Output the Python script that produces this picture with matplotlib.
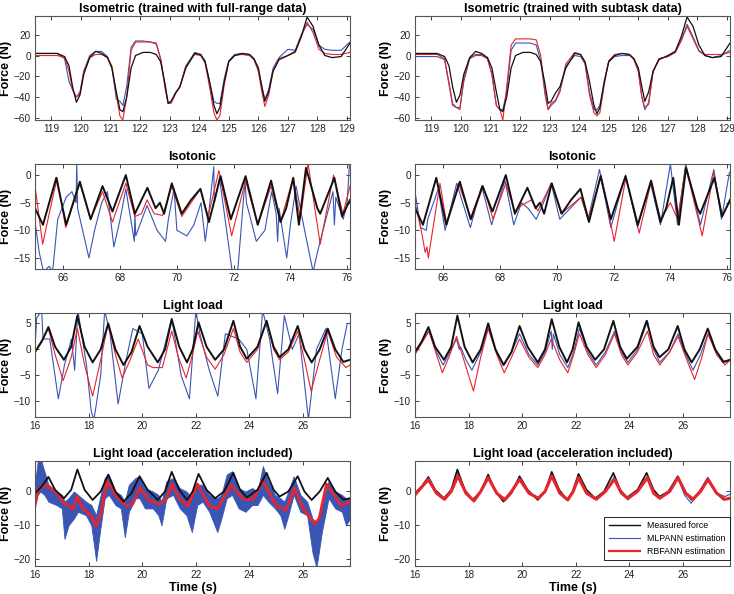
import matplotlib
matplotlib.use('Agg')
import matplotlib.pyplot as plt
from matplotlib.lines import Line2D

plt.rcParams['font.family'] = ['Liberation Sans', 'DejaVu Sans']

BLACK = '#111111'
BLUE = '#3a55b4'
RED = '#e8242c'

# ---------------- Row 1: isometric ----------------
t_iso = [118.45, 119.2, 119.45, 119.6, 119.72, 119.85, 119.97, 120.1, 120.3, 120.5,
         120.7, 120.9, 121.05, 121.2, 121.32, 121.42, 121.55, 121.7, 121.85, 122.1,
         122.35, 122.55, 122.7, 122.85, 122.95, 123.05, 123.2, 123.35, 123.55, 123.85,
         124.05, 124.2, 124.35, 124.5, 124.6, 124.7, 124.85, 125.0, 125.2, 125.45,
         125.7, 125.85, 126.0, 126.12, 126.22, 126.35, 126.5, 126.7, 127.0, 127.25,
         127.45, 127.65, 127.85, 128.05, 128.25, 128.5, 128.8, 129.1]
iso_measured = [2, 2, -1, -10, -30, -45, -38, -18, -2, 4,
                2, -2, -12, -35, -52, -54, -40, -12, 0, 3,
                3, 1, -6, -28, -46, -44, -36, -30, -12, 2,
                1, -6, -25, -48, -56, -50, -25, -6, 0, 2,
                1, -3, -12, -30, -44, -35, -15, -4, 0, 4,
                18, 37, 28, 10, 0, -2, -1, 12]
iso_mlp_full = [2, 2, -3, -25, -33, -40, -35, -15, 0, 4,
                4, -1, -12, -42, -44, -48, -30, 8, 14, 14,
                13, 12, -3, -30, -45, -45, -36, -30, -10, 3,
                1, -5, -25, -44, -46, -46, -22, -5, 1, 2,
                1, -3, -12, -30, -42, -33, -12, -2, 6, 5,
                20, 30, 25, 10, 6, 5, 5, 13]
iso_rbf_full = [0, 0, -2, -15, -33, -40, -37, -15, -2, 1,
                1, -2, -10, -38, -58, -62, -40, 5, 13, 13,
                13, 11, -4, -32, -46, -46, -37, -30, -10, 1,
                0, -7, -30, -55, -62, -58, -28, -6, 0, 1,
                0, -4, -15, -35, -49, -38, -15, -3, 0, 3,
                18, 32, 22, 6, 2, 1, 1, 3]
iso_mlp_sub = [-1, -1, -4, -28, -48, -50, -50, -25, -3, 0,
               0, -3, -18, -48, -52, -52, -35, 5, 12, 12,
               12, 10, -5, -38, -52, -48, -44, -35, -10, 0,
               -1, -8, -35, -52, -52, -48, -25, -6, -1, 0,
               0, -3, -15, -40, -52, -45, -15, -3, -1, 3,
               15, 30, 18, 5, 0, -2, 0, 5]
iso_rbf_sub = [1, 1, -3, -26, -46, -50, -52, -22, -2, 1,
               1, -3, -18, -48, -52, -62, -30, 10, 16, 16,
               16, 15, 0, -36, -52, -46, -43, -33, -8, 3,
               1, -8, -38, -55, -58, -55, -28, -5, 1, 2,
               1, -4, -15, -40, -50, -47, -16, -3, -1, 3,
               14, 28, 16, 4, 1, 1, 1, 3]

# ---------------- Row 2: isotonic ----------------
t_ton_meas = [65.0, 65.28, 65.75, 66.1, 66.58, 66.96, 67.38, 67.73, 68.2, 68.52,
              68.96, 69.25, 69.4, 69.55, 69.82, 70.17, 70.5, 70.83, 71.13, 71.54,
              71.9, 72.42, 72.85, 73.32, 73.65, 73.85, 74.1, 74.3, 74.55, 74.95,
              75.05, 75.55, 75.82, 76.1]
ton_measured = [-6, -9, -0.5, -9, -1.2, -8, -2, -6.6, 0, -7,
                -2.3, -6, -5, -7, -1.5, -7, -4.5, -2.5, -8.5, -0.2,
                -8, -0.2, -9, -1, -8.5, -6, -0.5, -9, 1.3, -6,
                -7, -0.5, -7.5, -4.5]
t_ton_mlp_full = [65.0, 65.15, 65.3, 65.5, 65.62, 65.8, 66.1, 66.3, 66.45, 66.47,
                  66.5, 66.9, 67.1, 67.35, 67.55, 67.78, 68.0, 68.2, 68.5, 68.52,
                  68.55, 68.95, 69.3, 69.6, 69.7, 69.9, 70.0, 70.35, 70.6, 70.85,
                  71.0, 71.1, 71.3, 71.32, 71.5, 71.95, 72.15, 72.4, 72.45, 72.8,
                  73.1, 73.34, 73.5, 73.55, 73.6, 73.87, 74.0, 74.2, 74.5, 74.8,
                  74.95, 75.5, 75.55, 75.6, 75.86, 76.0, 76.08]
ton_mlp_full = [-8.5, -14, -17.5, -16.5, -17.5, -8, -4, -3, -5, 2.5,
                -6, -15, -10, -5, -3, -13, -8, -2.5, -12, -7,
                -11, -5.5, -10, -12, -8, -2.5, -10, -11, -9, -5,
                -12, -8, 1.5, -5, -0.5, -17.5, -17, -1, -5, -12,
                -10, -3, -7, -12, -6, -15, -9, -2, -10, -17.5,
                -14, -3, -9, -4, -8, -5, 2]
t_ton_rbf_full = [65.0, 65.27, 65.5, 65.78, 66.08, 66.58, 66.96, 67.38, 67.73, 68.2,
                  68.52, 68.75, 68.95, 69.2, 69.5, 69.82, 70.17, 70.83, 71.1, 71.48,
                  71.93, 72.42, 72.85, 73.32, 73.65, 74.1, 74.35, 74.62, 75.05, 75.52,
                  75.85, 76.1]
ton_rbf_full = [-2, -12.5, -7, -0.5, -9.5, -1.5, -8, -3, -8.5, -1.5,
                -7.5, -7, -4.5, -7, -7.3, -2, -7.5, -2.5, -7.5, 0.8,
                -11, -1, -9, -2, -8.5, -0.5, -8, 2.2, -12.5, 0,
                -7, -2]
t_ton_mlp_sub = [65.0, 65.2, 65.4, 65.45, 65.82, 66.06, 66.47, 66.95, 67.35, 67.7,
                 68.17, 68.48, 68.75, 68.98, 69.27, 69.45, 69.8, 70.1, 70.85, 71.1,
                 71.5, 71.9, 72.42, 72.84, 73.3, 73.65, 74.0, 74.25, 74.54, 75.06,
                 75.53, 75.8, 76.08]
ton_mlp_sub = [-3, -9.5, -10, -8, -2.5, -10, -1.5, -9.5, -2, -9,
               -1, -9, -5, -6, -8, -6, -1.5, -8, -4, -8,
               1, -9.5, 0, -9.5, -1.5, -9, 2, -9, 2, -9,
               1, -8, 0.5]
t_ton_rbf_sub = [65.0, 65.22, 65.36, 65.42, 65.47, 65.88, 66.12, 66.53, 66.99, 67.4,
                 67.75, 68.2, 68.51, 68.75, 69.1, 69.33, 69.8, 70.15, 70.85, 71.1,
                 71.56, 72.02, 72.43, 72.9, 73.31, 73.66, 74.0, 74.25, 74.54, 75.12,
                 75.53, 75.82, 76.08]
ton_rbf_sub = [-5, -10, -14, -13, -15, -1.5, -9, -1.5, -8, -2,
               -8, -1.5, -6.5, -5.5, -4.5, -6.5, -1.5, -7, -4, -8,
               0, -12, -0.5, -10.5, -1.5, -8, -5, -8, 1.5, -11,
               0.5, -7.5, -5]

# ---------------- Row 3: light load ----------------
t_light_meas = [16.0, 16.25, 16.5, 16.75, 17.08, 17.35, 17.58, 17.85, 18.15, 18.45,
                18.73, 19.0, 19.3, 19.6, 19.9, 20.2, 20.58, 20.85, 21.1, 21.38,
                21.67, 21.88, 22.1, 22.4, 22.72, 23.05, 23.4, 23.65, 23.9, 24.3,
                24.64, 24.9, 25.12, 25.45, 25.8, 26.05, 26.32, 26.62, 26.92, 27.2,
                27.5, 27.75]
light_measured = [-0.5, 1.5, 4.3, 0.5, -2, 0.5, 6.5, 0.5, -2.5, 0,
                  5, 0, -3, -0.5, 4.5, 0.5, -2.5, 0, 5.8, 0.5,
                  -2.5, 0, 5.2, 0.5, -2, 0, 5.5, 0.5, -1.8, 0.5,
                  5.5, 0.5, -1.5, 0, 4.5, 0, -2.5, 0, 4, 0,
                  -2.4, -2]
t_light_mlp_full = [16.0, 16.06, 16.25, 16.3, 16.55, 16.87, 17.1, 17.36, 17.48, 17.6,
                    17.92, 18.1, 18.2, 18.45, 18.6, 18.8, 19.1, 19.4, 19.65, 20.0,
                    20.25, 20.6, 20.85, 21.1, 21.45, 21.76, 22.0, 22.15, 22.5, 22.82,
                    23.1, 23.6, 23.9, 24.24, 24.49, 24.75, 25.05, 25.3, 25.6, 25.85,
                    26.2, 26.5, 26.85, 27.2, 27.45, 27.65, 27.75]
light_mlp_full = [0, 6, 7.5, 2, 2, -9.5, -3, 2, -4, 7.5,
                  -3, -12, -13.5, -5, 7.5, 3, -10.5, -2, 4, 3,
                  -7.5, -4, 1, 6, -5, -9.5, 7.5, 3, -4, -9,
                  3, 2, 0, -9.5, 7.5, 2, -8.5, 6.5, 0, 3,
                  -13.5, 0, 4, -9.5, 0, 5, 5]
t_light_rbf_full = [16.0, 16.5, 16.75, 17.05, 17.35, 17.58, 17.85, 18.15, 18.45, 18.73,
                    19.0, 19.25, 19.55, 19.85, 20.2, 20.4, 20.75, 21.1, 21.35, 21.64,
                    21.85, 22.07, 22.4, 22.72, 23.05, 23.4, 23.65, 23.9, 24.3, 24.64,
                    24.9, 25.12, 25.45, 25.8, 26.05, 26.3, 26.62, 26.92, 27.25, 27.6,
                    27.75]
light_rbf_full = [-0.5, 4, -1, -6, -1.5, 4, -3, -9, -2, 5,
                  -1, -5.5, -2, 2, -3, -3.5, -3.5, 3.5, -1.5, -5.5,
                  -1.5, 3.5, -1.5, -3.8, -1, 4, -0.5, -2.5, 0, 5.5,
                  0, -2, -0.5, 3.5, -2, -8, -2, 3.5, -1.5, -3.5,
                  -3]
t_light_mlp_sub = [16.0, 16.52, 16.8, 17.05, 17.3, 17.55, 17.65, 17.7, 17.9, 18.12,
                   18.45, 18.73, 19.05, 19.33, 19.6, 19.9, 20.25, 20.58, 20.85, 21.08,
                   21.12, 21.16, 21.4, 21.7, 21.92, 22.13, 22.45, 22.76, 23.1, 23.44,
                   23.7, 23.94, 24.3, 24.67, 24.9, 25.13, 25.5, 25.81, 26.1, 26.37,
                   26.65, 26.93, 27.25, 27.56, 27.77]
light_mlp_sub = [-0.5, 3.5, -0.5, -3, -0.5, 2, 0, 0.5, -2, -4,
                 -0.5, 4, -0.5, -3, -0.5, 3, -1, -3, -0.5, 3.5,
                 0, 3, -1, -3.5, -0.5, 4, -0.5, -3, -0.5, 3.5,
                 -0.5, -2.5, 0, 5.5, 0, -2.5, -0.5, 3, -1, -4,
                 -1, 3, -0.5, -2.5, -2]
t_light_rbf_sub = [16.0, 16.52, 16.8, 17.02, 17.3, 17.55, 17.85, 18.18, 18.45, 18.73,
                   19.05, 19.33, 19.6, 19.9, 20.25, 20.58, 20.85, 21.08, 21.4, 21.7,
                   21.92, 22.13, 22.45, 22.76, 23.1, 23.44, 23.7, 23.94, 24.3, 24.67,
                   24.9, 25.13, 25.5, 25.81, 26.1, 26.43, 26.7, 26.93, 27.25, 27.56,
                   27.77]
light_rbf_sub = [-1, 3.5, -1, -4.5, -1, 2.5, -2.5, -8, -1.5, 4,
                 -1, -4.5, -1.5, 2, -1.5, -3.5, -1, 2, -2, -4.5,
                 -1, 3, -1, -3.5, -1, 3, -1, -3, -0.5, 3.5,
                 -1, -3, -0.5, 2.5, -1.5, -5.8, -1.5, 3, -1, -3,
                 -2]

# ---------------- Row 4: light load with acceleration ----------------
t_acc_mlp_full = [16.0, 16.1, 16.2, 16.35, 16.5, 16.8, 17.0, 17.1, 17.25, 17.45,
                  17.6, 17.9, 18.1, 18.28, 18.42, 18.6, 18.75, 19.0, 19.2, 19.35,
                  19.5, 19.75, 19.9, 20.1, 20.4, 20.6, 20.72, 20.9, 21.15, 21.4,
                  21.65, 21.85, 22.05, 22.25, 22.5, 22.8, 22.95, 23.15, 23.35, 23.6,
                  23.85, 24.1, 24.3, 24.5, 24.7, 24.95, 25.15, 25.3, 25.45, 25.65,
                  25.9, 26.15, 26.35, 26.5, 26.7, 26.95, 27.2, 27.45, 27.6, 27.75]
acc_mlp_full_hi = [2, 9, 10, 6, 2, 0, -1, -3, -2, 0,
                   -1, -3, -4, -7, -2, 4, 5, 0, -1, -3,
                   2, 4, 4.5, 1, 0, -1, -3, 3, 4, 1,
                   0, -2, 2, 2, -1, -2, -1, 5, 6, 1,
                   0, 1, 0, 7.5, 3, -1, -2, -3, 0, 4.5,
                   -1, -3, -8, -9, -4, 3, 0, -1, -2, -2]
acc_mlp_full_lo = [-4, -1, 0, -1, -3, -4, -5, -14, -10, -8,
                   -6, -7, -10, -20.5, -12, -2, -1, -4, -5, -13.5,
                   -6, -2, -2, -5, -5, -7, -10, -2, -1, -5,
                   -7, -12, -4, -3, -6, -12, -8, -2, -1, -5,
                   -6, -4, -4, -1, -3, -5, -7, -11, -7, -1,
                   -6, -7, -18, -22.5, -12, -2, -5, -6, -10, -8]
t_acc_rbf_full = [16.0, 16.12, 16.43, 16.8, 17.05, 17.42, 17.57, 17.8, 18.1, 18.28,
                  18.47, 18.68, 19.03, 19.4, 19.65, 19.9, 20.27, 20.64, 20.9, 21.1,
                  21.4, 21.71, 22.06, 22.5, 22.8, 23.31, 23.75, 24.12, 24.5, 24.99,
                  25.36, 25.68, 26.0, 26.43, 26.6, 26.87, 27.43, 27.75]
acc_rbf_full = [-4.2, 0.7, 1.9, -0.3, -3.2, -5.2, -1.5, -5.2, -7.2, -10.2,
                -6.2, 3.1, -1.3, -4.2, -3.7, 1.2, -2.8, -3.7, -2.3, 2.2,
                -2.3, -4.2, 2.2, -4.2, -5.2, 1.9, -2.1, -2.5, 3.2, -4.2,
                -5.5, 1.0, -5.0, -9.6, -8.0, 2.2, -4.2, -3.0]
t_acc_mlp_sub = [16.0, 16.5, 16.8, 17.1, 17.35, 17.6, 17.9, 18.2, 18.45, 18.73,
                 19.05, 19.35, 19.6, 19.9, 20.25, 20.6, 20.85, 21.1, 21.4, 21.7,
                 21.9, 22.13, 22.4, 22.76, 23.1, 23.44, 23.7, 23.94, 24.3, 24.67,
                 24.9, 25.13, 25.5, 25.81, 26.05, 26.3, 26.6, 26.93, 27.25, 27.56,
                 27.75]
acc_mlp_sub = [-0.5, 3, -0.5, -2.5, 0, 5.5, 0, -2.8, 0, 4,
               -0.5, -2, 0, 3.5, -0.5, -1.8, 0, 4.5, -0.5, -2.5,
               0, 4, -0.5, -2, 0, 4.5, -0.5, -2.5, 0, 4.5,
               -0.5, -2, 0, 4, -1, -3.5, 0, 3, -0.5, -1.5,
               -0.8]
t_acc_rbf_sub = [16.0, 16.5, 16.8, 17.1, 17.35, 17.6, 17.9, 18.2, 18.45, 18.73,
                 19.05, 19.35, 19.6, 19.9, 20.25, 20.6, 20.85, 21.1, 21.4, 21.7,
                 21.9, 22.1, 22.4, 22.76, 23.1, 23.44, 23.7, 23.94, 24.3, 24.67,
                 24.9, 25.13, 25.5, 25.81, 26.1, 26.37, 26.65, 26.93, 27.25, 27.56,
                 27.75]
acc_rbf_sub = [-1, 3.6, -0.5, -2.3, 0, 4.6, -0.5, -2.8, 0, 4.1,
               -0.5, -2.5, 0, 3.6, -0.5, -2, 0, 4.6, -0.5, -2.5,
               0, 4.1, -0.5, -2.3, 0, 3.6, -0.5, -2, 0, 4.1,
               -0.5, -2, 0, 4.1, -0.5, -2.3, 0, 3.6, -0.5, -2.3,
               -2]

titles = [["Isometric (trained with full-range data)", "Isometric (trained with subtask data)"],
          ["Isotonic", "Isotonic"],
          ["Light load", "Light load"],
          ["Light load (acceleration included)", "Light load (acceleration included)"]]
legend_labels = ["Measured force", "MLPANN estimation", "RBFANN estimation"]

fig = plt.figure(figsize=(7.34, 5.94), dpi=100)
col_x = [35 / 734, 415 / 734]
col_w = 315 / 734
row_px = [(16, 120), (164, 269), (313, 417), (461, 566)]


def make_ax(r, c):
    top, bot = row_px[r]
    return fig.add_axes([col_x[c], 1 - bot / 594, col_w, (bot - top) / 594])


def style(ax, xlim, ylim, xticks, yticks, title):
    ax.set_xlim(*xlim)
    ax.set_ylim(*ylim)
    ax.set_xticks(xticks)
    ax.set_yticks(yticks)
    ax.tick_params(direction='in', length=3, width=0.6, top=True, right=True,
                   labelsize=7.2, colors='#222222', pad=3)
    for s in ax.spines.values():
        s.set_linewidth(0.8)
        s.set_color('#555555')
    ax.set_title(title, fontsize=9, fontweight='bold', pad=3)
    ax.set_ylabel('Force (N)', fontsize=9, fontweight='bold')
    ax.yaxis.set_label_coords(-0.072, 0.5)


# Row 1
for c, (mlp, rbf) in enumerate([(iso_mlp_full, iso_rbf_full), (iso_mlp_sub, iso_rbf_sub)]):
    ax = make_ax(0, c)
    ax.plot(t_iso, mlp, color=BLUE, lw=0.8)
    ax.plot(t_iso, rbf, color=RED, lw=0.8)
    ax.plot(t_iso, iso_measured, color=BLACK, lw=0.9)
    style(ax, (118.45, 129.1), (-62, 38), range(119, 130), [-60, -40, -20, 0, 20], titles[0][c])

# Row 2
for c, (tm, mlp, tr, rbf) in enumerate([(t_ton_mlp_full, ton_mlp_full, t_ton_rbf_full, ton_rbf_full),
                                         (t_ton_mlp_sub, ton_mlp_sub, t_ton_rbf_sub, ton_rbf_sub)]):
    ax = make_ax(1, c)
    ax.plot(tm, mlp, color=BLUE, lw=0.8)
    ax.plot(tr, rbf, color=RED, lw=0.8)
    ax.plot(t_ton_meas, ton_measured, color=BLACK, lw=1.4)
    style(ax, (65.0, 76.1), (-17, 2), range(66, 77, 2), [-15, -10, -5, 0], titles[1][c])

# Row 3
for c, (tm, mlp, tr, rbf) in enumerate([(t_light_mlp_full, light_mlp_full, t_light_rbf_full, light_rbf_full),
                                         (t_light_mlp_sub, light_mlp_sub, t_light_rbf_sub, light_rbf_sub)]):
    ax = make_ax(2, c)
    ax.plot(tm, mlp, color=BLUE, lw=0.8)
    ax.plot(tr, rbf, color=RED, lw=0.8)
    ax.plot(t_light_meas, light_measured, color=BLACK, lw=1.4)
    style(ax, (16, 27.75), (-13, 7), range(16, 27, 2), [-10, -5, 0, 5], titles[2][c])

# Row 4 left
ax = make_ax(3, 0)
ax.fill_between(t_acc_mlp_full, acc_mlp_full_lo, acc_mlp_full_hi, color=BLUE, lw=0.6)
ax.plot(t_acc_rbf_full, acc_rbf_full, color=RED, lw=2.0)
ax.plot(t_light_meas, light_measured, color=BLACK, lw=1.3)
style(ax, (16, 27.75), (-22, 9), range(16, 27, 2), [-20, -10, 0], titles[3][0])
ax.set_xlabel('Time (s)', fontsize=9, fontweight='bold', labelpad=1)

# Row 4 right
ax = make_ax(3, 1)
ax.plot(t_acc_mlp_sub, acc_mlp_sub, color=BLUE, lw=0.8)
ax.plot(t_light_meas, light_measured, color=BLACK, lw=1.2)
ax.plot(t_acc_rbf_sub, acc_rbf_sub, color=RED, lw=2.2)
style(ax, (16, 27.75), (-22, 9), range(16, 27, 2), [-20, -10, 0], titles[3][1])
ax.set_xlabel('Time (s)', fontsize=9, fontweight='bold', labelpad=1)
handles = [Line2D([], [], color=BLACK, lw=1.0),
           Line2D([], [], color=BLUE, lw=0.8),
           Line2D([], [], color=RED, lw=1.6)]
leg = ax.legend(handles, legend_labels, loc='lower right', bbox_to_anchor=(1.0, 0.055),
                borderaxespad=0, fontsize=6.3, handlelength=3.6, fancybox=False,
                edgecolor='black', framealpha=1, borderpad=0.5, labelspacing=0.45,
                handletextpad=0.8)
leg.get_frame().set_linewidth(0.6)

fig.savefig('out.png', dpi=100)
